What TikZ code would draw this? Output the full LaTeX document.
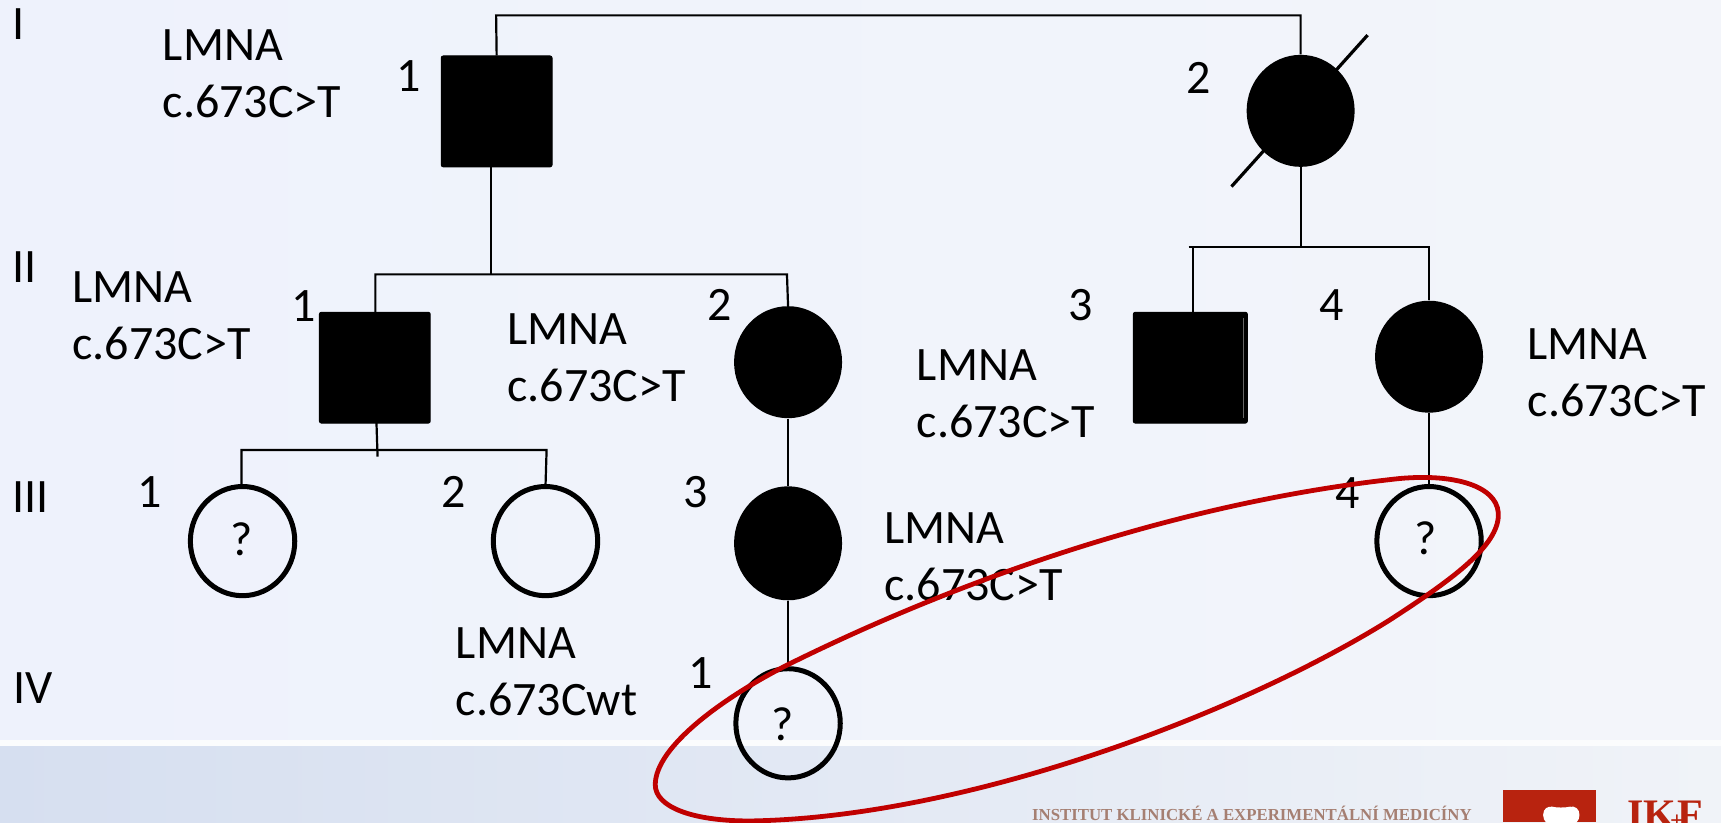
\documentclass[tikz,border=0pt]{standalone}
\usepackage{fontspec}
\setmainfont{Carlito}
\newfontfamily\logoserif{Liberation Serif}
\usetikzlibrary{shapes.geometric}
\definecolor{ringred}{HTML}{C00000}
\definecolor{logored}{HTML}{B8230F}
\definecolor{logotext}{HTML}{A57F72}
\definecolor{bgtopl}{HTML}{EEF2FC}
\definecolor{bgtopr}{HTML}{F3F5FA}
\definecolor{bgbotl}{HTML}{D6DFF0}
\definecolor{bgbotm}{HTML}{E8ECF6}
\definecolor{bgbotr}{HTML}{F0F3F8}
\tikzset{
  x=0.5488pt,y=-0.5488pt,
  lab/.style={inner sep=0pt,anchor=west,align=left,font=\fontsize{24}{28.5}\selectfont},
  num/.style={inner sep=0pt,font=\fontsize{24}{28}\selectfont},
  affsq/.style={draw=black,fill=black,rounded corners=1pt,minimum width=55.4pt,minimum height=55.4pt,inner sep=0pt,line width=0.5pt},
  affci/.style={ellipse,fill=black,minimum width=54pt,minimum height=56pt,inner sep=0pt},
  openci/.style={ellipse,draw=black,line width=2.5pt,fill=none,minimum width=52.2pt,minimum height=54.6pt,inner sep=0pt},
  conn/.style={draw=black,line width=1.1pt},
}
\begin{document}
\begin{tikzpicture}
\useasboundingbox (0,0) rectangle (1568,749);
\clip (0,0) rectangle (1568,749);
% background
\shade[left color=bgtopl, right color=bgtopr] (0,0) rectangle (1568,674);
\fill[white!70!bgtopr] (0,674) rectangle (1568,680);
\shade[left color=bgbotl, middle color=bgbotm, right color=bgbotr] (0,680) rectangle (1568,749);
% nodes
\node[affsq] (a1) at (452.5,101.5) {};
\node[affci] (a2) at (1185,101) {};
\node[affsq] (b1) at (341.5,335) {};
\node[affci] (b2) at (718,330) {};
\node[affsq,minimum width=57pt] (b3) at (1084.5,335) {};
\node[affci] (b4) at (1302,325) {};
\node[openci] (c1) at (221,493) {};
\node[openci] (c2) at (497,493) {};
\node[affci,minimum height=57pt] (c3) at (718,495) {};
\node[openci] (c4) at (1302,493) {};
\node[openci] (d1) at (718,659) {};
\node[num] (q1) at (220,491) {?};
\node[num] (q2) at (1299,490) {?};
\node[num] (q3) at (713,660) {?};
\draw[black!60,line width=0.5pt] (1132.6,290) -- (1132.6,381);
% slash
\coordinate (s1) at (1122,170);
\coordinate (s2) at (1246,32);
\draw[black,line width=1.6pt] (s1) -- (s2);
% junctions
\coordinate (ja) at (447,250);
\coordinate (jb1) at (342,250);
\coordinate (jb2) at (717,250);
\coordinate (jc) at (1185,226);
\coordinate (jc1) at (1083,225);
\coordinate (jc2) at (1302,225);
\coordinate (jd) at (344,416);
\coordinate (jd1) at (220,410);
\coordinate (jd2) at (498,410);
% connectors
\draw[conn] (a1.north) -- (452,14) -| (a2.north);
\draw[conn] (447,152) -- (ja);
\draw[conn] (b1.north -| jb1) |- (jb2) -- (b2.north);
\draw[conn] (a2.south) -- (jc);
\draw[conn] (jc1) -- (jc2) -- (b4.north);
\draw[conn] (1087,225) -- (1087,285);
\draw[conn] (343,385) -- (jd);
\draw[conn] (220,443) -- (jd1) -- (jd2) -- (497,443);
\draw[conn] (b2.south) -- (c3.north);
\draw[conn] (c3.south) -- (d1.north);
\draw[conn] (b4.south) -- (c4.north);
% labels
\node[lab] at (148,67) {LMNA\\c.673C>T};
\node[lab] at (65.5,288) {LMNA\\c.673C>T};
\node[lab] at (462,326) {LMNA\\c.673C>T};
\node[lab] at (835,359) {LMNA\\c.673C>T};
\node[lab] at (1391.5,340) {LMNA\\c.673C>T};
\node[lab] at (805.5,507) {LMNA\\c.673C>T};
\node[lab] at (415,612) {LMNA\\c.673Cwt};
\node[num] at (17,22) {I};
\node[num] at (22,243) {II};
\node[num] at (28,453) {III};
\node[num] at (30,627) {IV};
\node[num] at (372,69) {1};
\node[num] at (1092.5,71) {2};
\node[num] at (277,279) {1};
\node[num] at (655.5,278) {2};
\node[num] at (985,278) {3};
\node[num] at (1213.5,278) {4};
\node[num] at (136,448) {1};
\node[num] at (413.5,448) {2};
\node[num] at (633.5,448) {3};
\node[num] at (1228,449) {4};
\node[num] at (638,613) {1};
% red ring
\draw[ringred,line width=2.4pt] (597,715)
  .. controls (597,680) and (660,635) .. (717,606)
  .. controls (870,530) and (1070,458) .. (1275,436)
  .. controls (1330,431) and (1368,445) .. (1365,472)
  .. controls (1362,500) and (1320,530) .. (1266,565)
  .. controls (1130,650) and (880,745) .. (683,748)
  .. controls (630,748) and (597,735) .. cycle;
% logo
\node[inner sep=0pt,anchor=base west,text=logotext,font=\logoserif\bfseries\fontsize{8.4}{9}\selectfont] (inst) at (940,748) {INSTITUT KLINICKÉ A EXPERIMENTÁLNÍ MEDICÍNY};
\fill[logored] (1369,720) rectangle (1454,749);
\fill[white,rounded corners=5pt] (1406,752) -- (1406,733) -- (1422,737) -- (1439,733) -- (1439,752) -- cycle;
\node[inner sep=0pt,anchor=base west,text=logored,font=\logoserif\bfseries\fontsize{21}{24}\selectfont] (ik) at (1482,755) {IK\kern-3pt{\fontsize{12}{12}\selectfont+}\kern-3ptF};
\end{tikzpicture}
\end{document}
